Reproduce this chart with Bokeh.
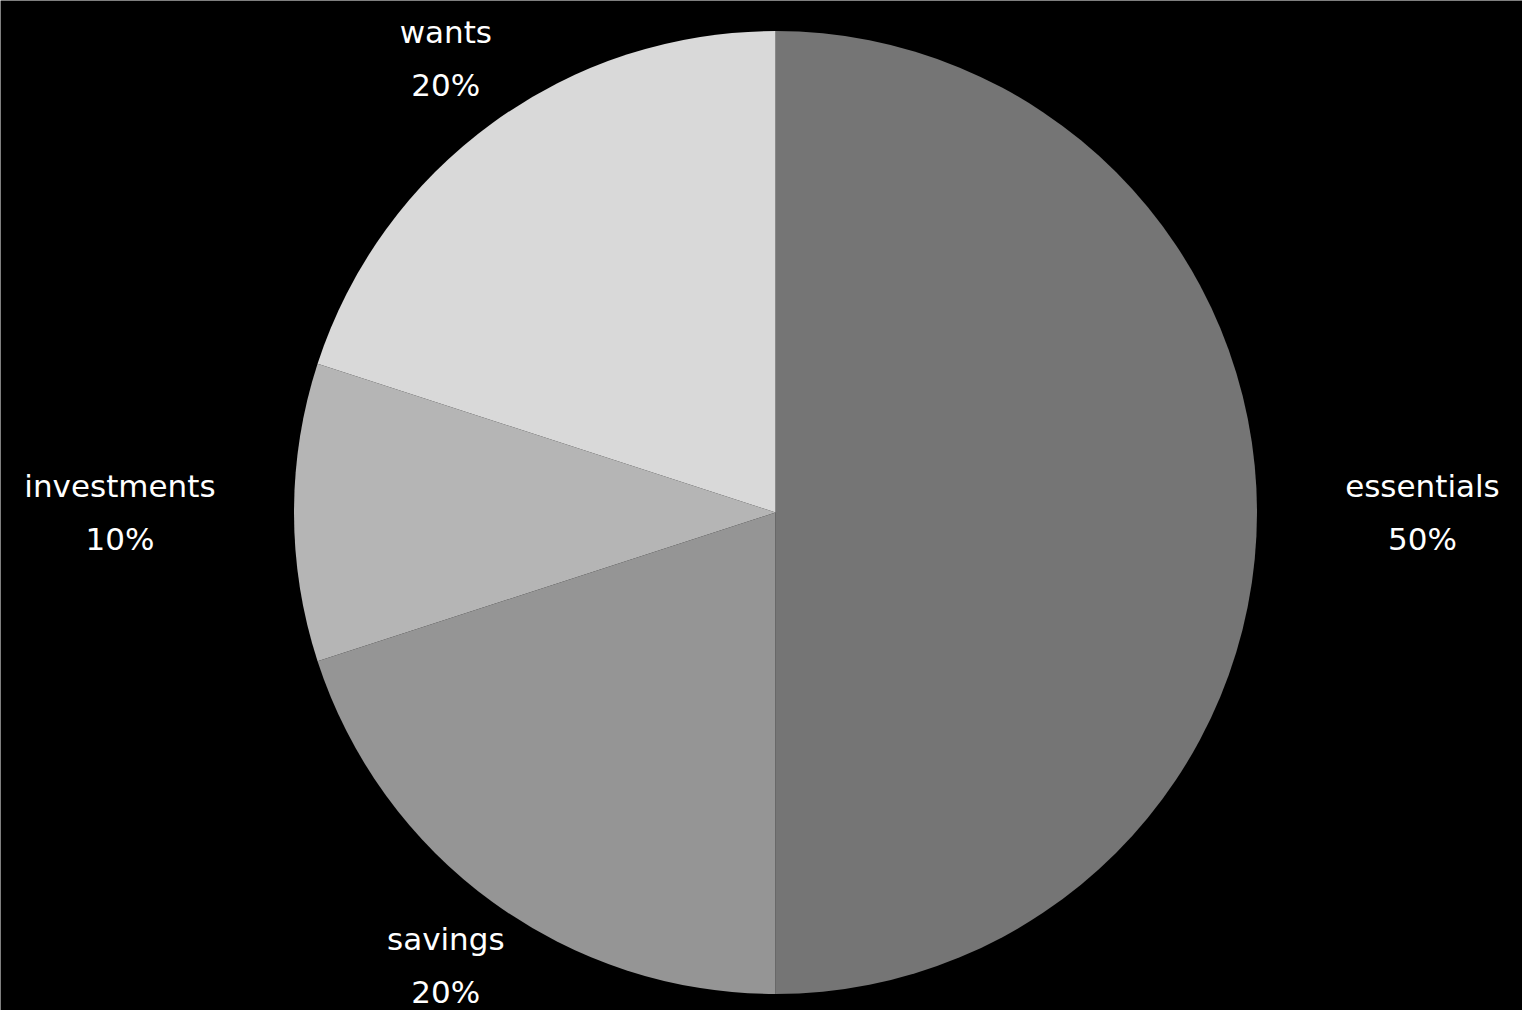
import math
from bokeh.plotting import figure
from bokeh.models import Range1d, ColumnDataSource
from bokeh.core.properties import value
from bokeh.embed import file_html
from bokeh.resources import INLINE

# ---- data ----
categories = ["essentials", "savings", "investments", "wants"]
shares = [50, 20, 10, 20]
colors = ["#757575", "#959595", "#b5b5b5", "#d9d9d9"]

W, H = 1522, 1010
cx, cy = 775, 498
R = 481.5
LABEL_R = 1.165
CHAR_W = 17.2

p = figure(width=W, height=H, output_backend="svg", toolbar_location=None,
           x_range=Range1d(0, W), y_range=Range1d(0, H),
           background_fill_color="black", border_fill_color="black",
           min_border=0, outline_line_color=None)
p.axis.visible = False
p.grid.visible = False

total = sum(shares)
starts, ends = [], []
a = math.pi / 2
for s in shares:
    sweep = 2 * math.pi * s / total
    starts.append(a - sweep)
    ends.append(a)
    a -= sweep

src = ColumnDataSource(dict(start=starts, end=ends, color=colors))
p.wedge(x=cx, y=cy, radius=R, start_angle="start", end_angle="end",
        fill_color="color", line_color=None, source=src)

lx, ly, xoff, names, pcts = [], [], [], [], []
for c, s, st, en in zip(categories, shares, starts, ends):
    mid = (st + en) / 2
    co, si = math.cos(mid), math.sin(mid)
    lx.append(cx + R * LABEL_R * co)
    ly.append(cy + R * LABEL_R * si)
    half = len(c) * CHAR_W / 2
    if co > 0.9:
        xoff.append(half)
    elif co < -0.9:
        xoff.append(-half)
    else:
        xoff.append(0)
    names.append(c)
    pcts.append(f"{s}%")

lsrc = ColumnDataSource(dict(x=lx, y=ly, xo=xoff, name=names, pct=pcts))
font = value("DejaVu Sans")
p.text(x="x", y="y", text="name", source=lsrc, text_align="center",
       x_offset="xo", text_baseline="middle", y_offset=-27, text_color="white",
       text_font=font, text_font_size="31px")
p.text(x="x", y="y", text="pct", source=lsrc, text_align="center",
       x_offset="xo", text_baseline="middle", y_offset=26, text_color="white",
       text_font=font, text_font_size="31px")

open("out.html", "w").write(file_html(p, INLINE))
